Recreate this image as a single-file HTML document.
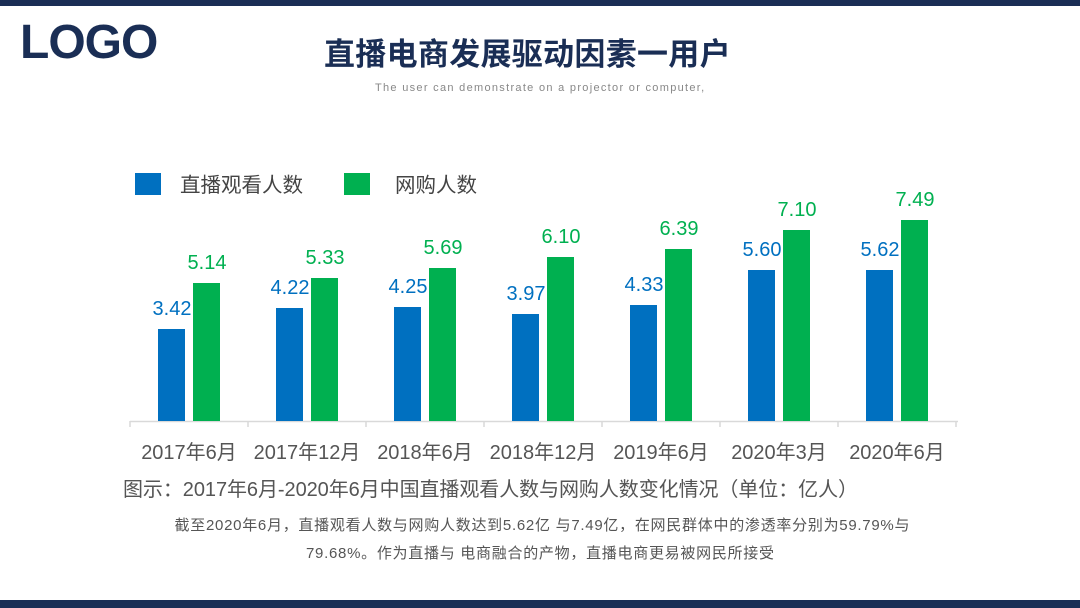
<!DOCTYPE html>
<html><head><meta charset="utf-8"><style>
body{margin:0;width:1080px;height:608px;background:#fff;position:relative;overflow:hidden;font-family:"Liberation Sans","Noto Sans CJK SC",sans-serif}
.a{position:absolute;white-space:nowrap}
</style></head><body>
<div class="a" style="left:0;top:0;width:1080px;height:6px;background:#1a2e55"></div>
<div class="a" style="left:0;top:600px;width:1080px;height:8px;background:#1a2e55"></div>
<div class="a" style="left:20px;top:15px;font-size:48px;font-weight:bold;color:#1a2e55;letter-spacing:-1px">LOGO</div>
<div class="a" style="left:324px;top:29px;font-size:31px;font-weight:bold;color:#1a2e55;letter-spacing:0.3px">直播电商发展驱动因素一用户</div>
<div class="a" style="left:375px;top:82px;font-size:11px;color:#888;letter-spacing:1.3px">The user can demonstrate on a projector or computer,</div>
<svg class="a" style="left:0;top:0" width="1080" height="608" font-family="Liberation Sans, Noto Sans CJK SC, sans-serif">
<rect x="135" y="173" width="26" height="22" fill="#0070c0"/>
<text x="180" y="192" font-size="20.5" fill="#444">直播观看人数</text>
<rect x="344" y="173" width="26" height="22" fill="#00b050"/>
<text x="395" y="192" font-size="20.5" fill="#444">网购人数</text>
<line x1="130" y1="421.5" x2="958" y2="421.5" stroke="#d9d9d9" stroke-width="1.5"/>
<g stroke="#d9d9d9" stroke-width="1.5">
<line x1="130" y1="421" x2="130" y2="427"/><line x1="248" y1="421" x2="248" y2="427"/><line x1="366" y1="421" x2="366" y2="427"/><line x1="484" y1="421" x2="484" y2="427"/><line x1="602" y1="421" x2="602" y2="427"/><line x1="720" y1="421" x2="720" y2="427"/><line x1="838" y1="421" x2="838" y2="427"/><line x1="956" y1="421" x2="956" y2="427"/>
</g>
<g font-size="20">
<rect x="158" y="329" width="27" height="92" fill="#0070c0"/><rect x="193" y="283" width="27" height="138" fill="#00b050"/>
<text x="172" y="315" fill="#0070c0" text-anchor="middle">3.42</text><text x="207" y="269" fill="#00b050" text-anchor="middle">5.14</text>
<rect x="276" y="308" width="27" height="113" fill="#0070c0"/><rect x="311" y="278" width="27" height="143" fill="#00b050"/>
<text x="290" y="294" fill="#0070c0" text-anchor="middle">4.22</text><text x="325" y="264" fill="#00b050" text-anchor="middle">5.33</text>
<rect x="394" y="307" width="27" height="114" fill="#0070c0"/><rect x="429" y="268" width="27" height="153" fill="#00b050"/>
<text x="408" y="293" fill="#0070c0" text-anchor="middle">4.25</text><text x="443" y="254" fill="#00b050" text-anchor="middle">5.69</text>
<rect x="512" y="314" width="27" height="107" fill="#0070c0"/><rect x="547" y="257" width="27" height="164" fill="#00b050"/>
<text x="526" y="300" fill="#0070c0" text-anchor="middle">3.97</text><text x="561" y="243" fill="#00b050" text-anchor="middle">6.10</text>
<rect x="630" y="305" width="27" height="116" fill="#0070c0"/><rect x="665" y="249" width="27" height="172" fill="#00b050"/>
<text x="644" y="291" fill="#0070c0" text-anchor="middle">4.33</text><text x="679" y="235" fill="#00b050" text-anchor="middle">6.39</text>
<rect x="748" y="270" width="27" height="151" fill="#0070c0"/><rect x="783" y="230" width="27" height="191" fill="#00b050"/>
<text x="762" y="256" fill="#0070c0" text-anchor="middle">5.60</text><text x="797" y="216" fill="#00b050" text-anchor="middle">7.10</text>
<rect x="866" y="270" width="27" height="151" fill="#0070c0"/><rect x="901" y="220" width="27" height="201" fill="#00b050"/>
<text x="880" y="256" fill="#0070c0" text-anchor="middle">5.62</text><text x="915" y="206" fill="#00b050" text-anchor="middle">7.49</text>
</g>
<g font-size="20" fill="#555" text-anchor="middle">
<text x="189" y="459">2017年6月</text><text x="307" y="459">2017年12月</text><text x="425" y="459">2018年6月</text><text x="543" y="459">2018年12月</text><text x="661" y="459">2019年6月</text><text x="779" y="459">2020年3月</text><text x="897" y="459">2020年6月</text>
</g>
<text x="123" y="496" font-size="20" fill="#555" textLength="735">图示：2017年6月-2020年6月中国直播观看人数与网购人数变化情况（单位：亿人）</text>
<g font-size="15" fill="#555" text-anchor="middle">
<text x="542" y="530" textLength="735">截至2020年6月，直播观看人数与网购人数达到5.62亿 与7.49亿，在网民群体中的渗透率分别为59.79%与</text>
<text x="540" y="558" textLength="468">79.68%。作为直播与 电商融合的产物，直播电商更易被网民所接受</text>
</g>
</svg>
</body></html>
